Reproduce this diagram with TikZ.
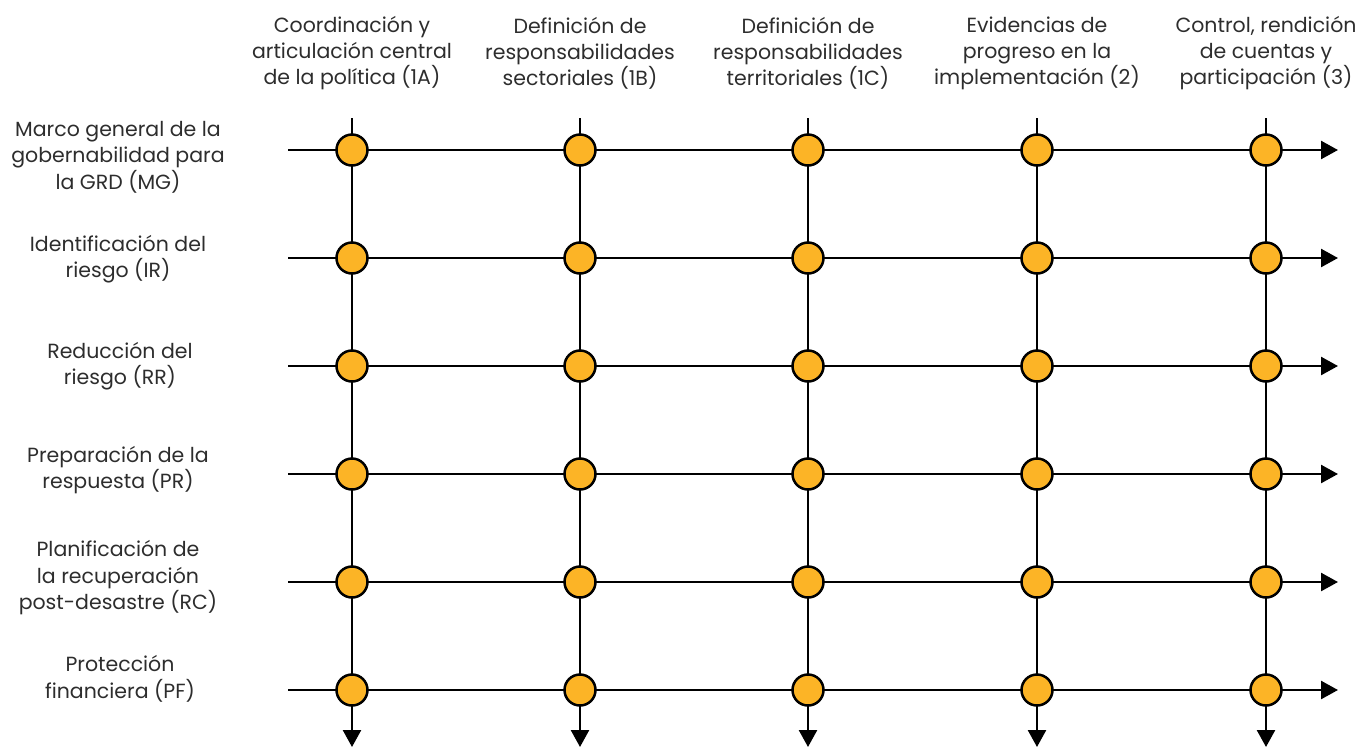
\documentclass[tikz,border=0pt]{standalone}
\usepackage{fontspec}
\setmainfont{Poppins}
\usetikzlibrary{arrows.meta}
\definecolor{dotfill}{RGB}{252,180,38}
\definecolor{txt}{RGB}{45,45,45}
\tikzset{
  gridline/.style={line width=2.5pt, black},
  arrowline/.style={gridline, -{Triangle[width=18pt,length=17pt]}},
  dot/.style={circle, draw=black, line width=2.5pt, fill=dotfill, minimum size=31pt, inner sep=0pt},
  head/.style={font=\fontsize{20.5}{26}\selectfont, text=txt, align=center, anchor=center},
  rowlab/.style={font=\fontsize{20.5}{26.5}\selectfont, text=txt, align=center, anchor=center},
}
\begin{document}
\begin{tikzpicture}[x=1pt,y=-1pt]
\useasboundingbox (0,0) rectangle (1366,748);
% column and row positions
\def\colxs{352,580,808,1037,1266}
\def\rowys{150,258,366,474,582,690}
% headers
\node[head] (h1) at (352,53) {Coordinación y\\articulación central\\de la política (1A)};
\node[head] (h2) at (580,53) {Definición de\\responsabilidades\\sectoriales (1B)};
\node[head] (h3) at (808,53) {Definición de\\responsabilidades\\territoriales (1C)};
\node[head] (h4) at (1037,53) {Evidencias de\\progreso en la\\implementación (2)};
\node[head] (h5) at (1266,53) {Control, rendición\\de cuentas y\\participación (3)};
% row labels
\node[rowlab] (r1) at (118,157) {Marco general de la\\gobernabilidad para\\la GRD (MG)};
\node[rowlab] (r2) at (118,259) {Identificación del\\riesgo (IR)};
\node[rowlab] (r3) at (120,366) {Reducción del\\riesgo (RR)};
\node[rowlab] (r4) at (118,470) {Preparación de la\\respuesta (PR)};
\node[rowlab] (r5) at (118,578) {Planificación de\\la recuperación\\post-desastre (RC)};
\node[rowlab] (r6) at (120,679) {Protección\\financiera (PF)};
% line end coordinates
\foreach \x [count=\j] in \colxs {
  \coordinate (vt\j) at (\x,118);
  \coordinate (vb\j) at (\x,747);
}
\foreach \y [count=\i] in \rowys {
  \coordinate (hl\i) at (288,\y);
  \coordinate (hr\i) at (1338,\y);
}
% vertical lines
\foreach \j in {1,...,5} { \draw[arrowline] (vt\j) -- (vb\j); }
% horizontal lines
\foreach \i in {1,...,6} { \draw[arrowline] (hl\i) -- (hr\i); }
% dots
\foreach \y [count=\i] in \rowys {
  \foreach \x [count=\j] in \colxs {
    \node[dot] (c\i-\j) at (\x,\y) {};
  }
}
\end{tikzpicture}
\end{document}
